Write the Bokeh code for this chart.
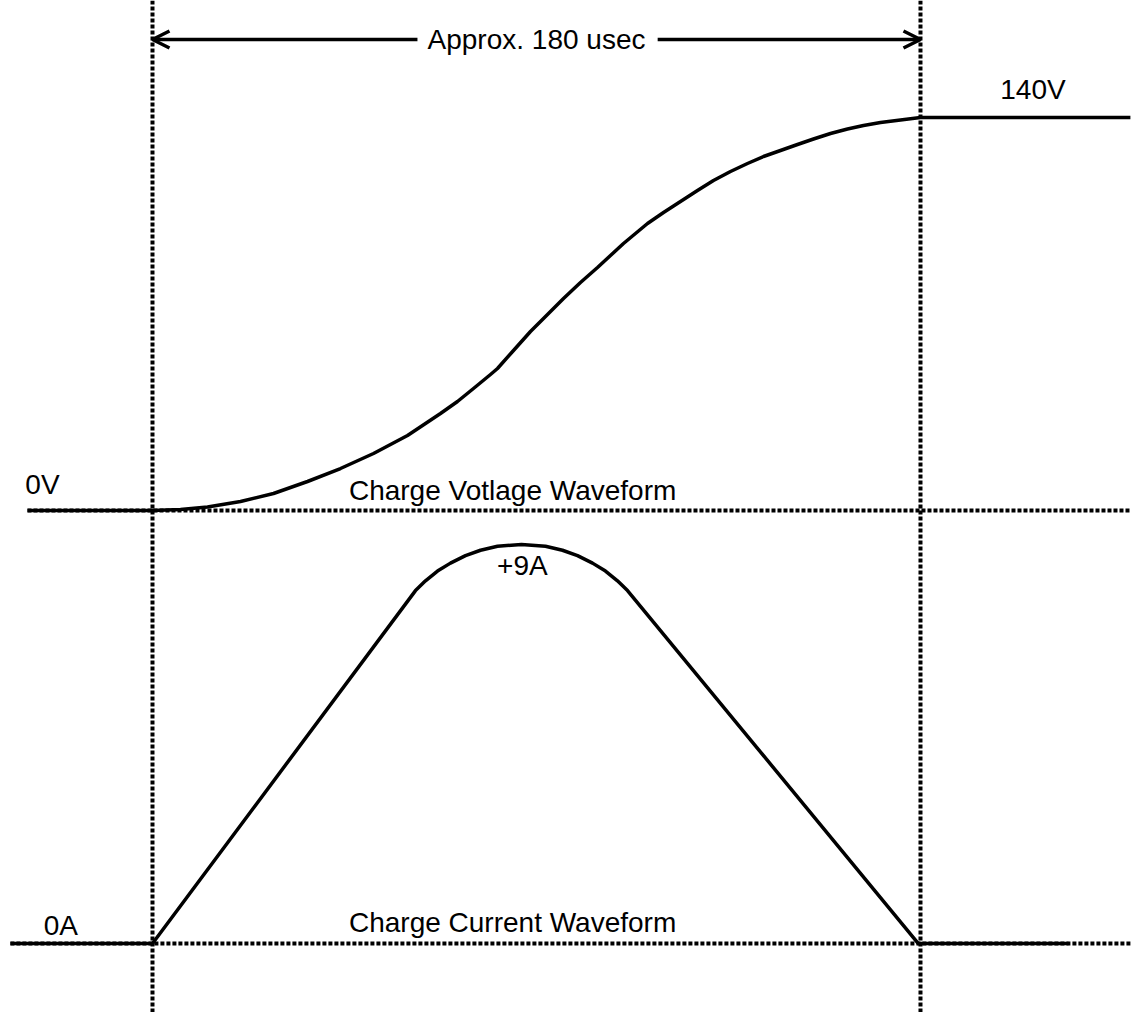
from bokeh.plotting import figure
from bokeh.models import Range1d, Span, Arrow, OpenHead
from bokeh.core.properties import value
from bokeh.embed import file_html
from bokeh.resources import INLINE

# ---- data (time in usec) ----
t_markers = [0, 180]

t_voltage = [-29.3, 0, 6.56, 12.89, 20.63, 28.36, 36.33, 44.06, 51.80, 59.77, 67.50,
             71.48, 75.23, 79.22, 80.86, 84.61, 88.59, 92.58, 96.33, 100.31, 104.30,
             107.34, 110.39, 113.20, 116.02, 119.77, 123.75, 127.73, 131.48, 135.47,
             139.45, 143.20, 147.19, 151.17, 154.92, 158.91, 162.89, 166.64, 170.63,
             175.31, 180, 229.2]
v_voltage = [0, 0, 0.36, 1.25, 3.21, 6.06, 10.33, 14.96, 20.31, 26.72, 34.56,
             38.83, 43.46, 48.45, 50.59, 57.00, 63.77, 69.83, 75.52, 81.22, 86.56,
             90.84, 95.11, 98.67, 102.24, 106.16, 110.08, 114.0, 117.56, 120.76,
             123.61, 126.11, 128.25, 130.39, 132.35, 134.31, 135.91, 137.16, 138.23,
             139.12, 140, 140]

t_current = [-33.3, 0, 61.64, 63.98, 66.80, 69.84, 73.36, 76.88, 80.86, 86.48,
             92.11, 96.09, 99.61, 103.13, 106.17, 108.98, 111.33, 179.5, 214.7]
i_current = [0, 0, 7.96, 8.18, 8.40, 8.58, 8.75, 8.87, 8.96, 9.0,
             8.96, 8.87, 8.75, 8.58, 8.40, 8.18, 7.96, 0, 0]

v_base_t = [-29.3, 229.2]
v_base_v = [0, 0]
i_base_t = [-33.3, 229.2]
i_base_i = [0, 0]

v_label_text = ["0V", "140V"]
v_label_t = [-29.8, 198.7]
v_label_v = [9.44, 149.97]

v_title_text = ["Charge Votlage Waveform"]
v_title_t = [84.4]
v_title_v = [7.12]

i_label_text = ["0A"]
i_label_t = [-25.5]
i_label_i = [0.406]

i_center_text = ["Charge Current Waveform", "+9A"]
i_center_t = [84.4, 86.7]
i_center_i = [0.474, 8.526]

span_text = "Approx. 180 usec"
span_text_t = 90.0
span_y = 167.8
gap_left = 62.1
gap_right = 118.4

FONT = value("Liberation Sans")
FS = value("28px")
DASH = "4 2"
DOT_W = 4
SOLID_W = 3.5

p = figure(width=1132, height=1012,
           x_range=Range1d(-35.625, 229.69), y_range=Range1d(-178.83, 181.68),
           output_backend="svg", toolbar_location=None, min_border=0,
           x_axis_location=None, y_axis_location=None)
p.extra_y_ranges = {"current": Range1d(-1.556, 21.27)}
p.grid.visible = False
p.outline_line_color = None
p.background_fill_color = "white"
p.border_fill_color = "white"

# dotted reference lines
for t in t_markers:
    p.add_layout(Span(location=t, dimension="height", line_color="black",
                      line_width=DOT_W, line_dash=DASH))
p.line(v_base_t, v_base_v, line_color="black", line_width=DOT_W, line_dash=DASH)
p.line(i_base_t, i_base_i, line_color="black", line_width=DOT_W, line_dash=DASH,
       y_range_name="current")

# waveforms
p.line(t_voltage, v_voltage, line_color="black", line_width=SOLID_W, line_join="round")
p.line(t_current, i_current, line_color="black", line_width=SOLID_W, line_join="round",
       y_range_name="current")

# span arrows
p.add_layout(Arrow(end=OpenHead(size=17, line_width=SOLID_W, line_color="black"),
                   x_start=gap_left, y_start=span_y, x_end=t_markers[0], y_end=span_y,
                   line_width=SOLID_W, line_color="black"))
p.add_layout(Arrow(end=OpenHead(size=17, line_width=SOLID_W, line_color="black"),
                   x_start=gap_right, y_start=span_y, x_end=t_markers[1], y_end=span_y,
                   line_width=SOLID_W, line_color="black"))

# texts
p.text([span_text_t], [span_y], text=[span_text], text_font=FONT, text_font_size=FS,
       text_align="center", text_baseline="middle", text_color="black")
p.text(v_label_t, v_label_v, text=v_label_text, text_font=FONT, text_font_size=FS,
       text_align="left", text_baseline="middle", text_color="black")
p.text(v_title_t, v_title_v, text=v_title_text, text_font=FONT, text_font_size=FS,
       text_align="center", text_baseline="middle", text_color="black")
p.text(i_label_t, i_label_i, text=i_label_text, text_font=FONT, text_font_size=FS,
       text_align="left", text_baseline="middle", text_color="black",
       y_range_name="current")
p.text(i_center_t, i_center_i, text=i_center_text, text_font=FONT, text_font_size=FS,
       text_align="center", text_baseline="middle", text_color="black",
       y_range_name="current")

open("out.html", "w").write(file_html(p, INLINE))
